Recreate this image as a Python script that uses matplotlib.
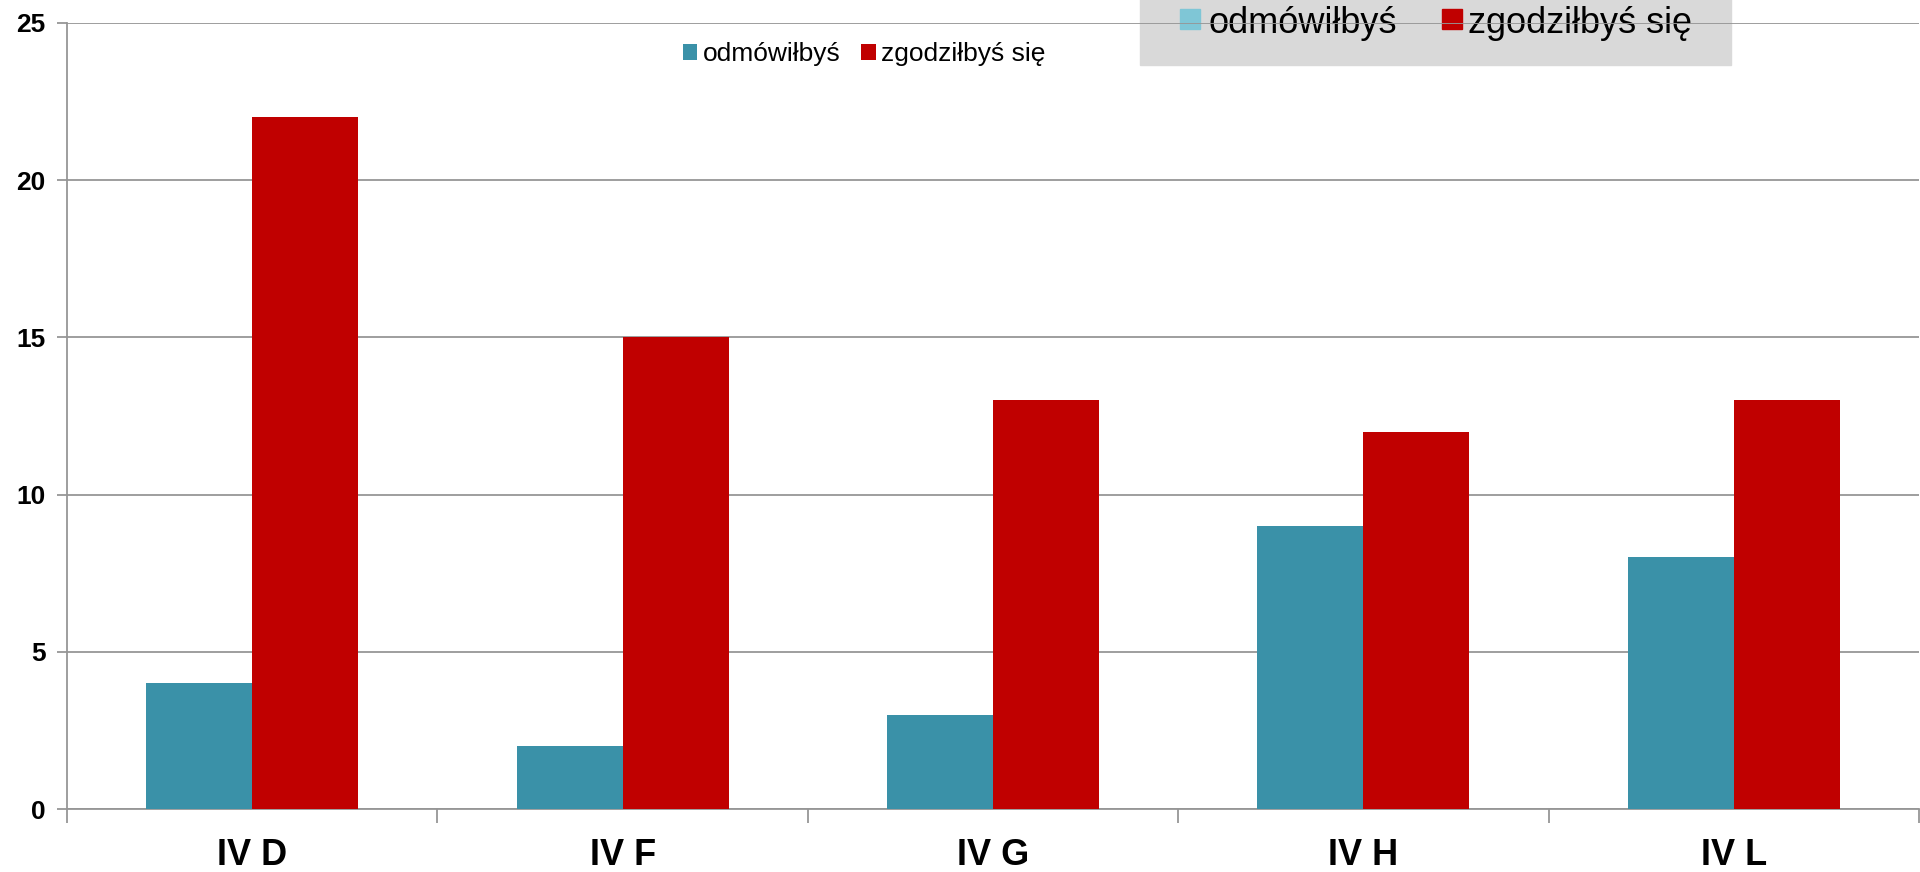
import matplotlib
matplotlib.use("Agg")
import matplotlib.pyplot as plt
from matplotlib.patches import Rectangle
import numpy as np

plt.rcParams['font.family'] = ['Liberation Sans', 'DejaVu Sans']

# data
classes = ["IV D", "IV F", "IV G", "IV H", "IV L"]
odmowilbys = [4, 2, 3, 9, 8]
zgodzilbys = [22, 15, 13, 12, 13]
series_names = ["odmówiłbyś", "zgodziłbyś się"]
y_ticks = [0, 5, 10, 15, 20, 25]

teal = "#3a91a8"
teal_light = "#7fc6d6"
red = "#c00000"
grey = "#969696"

W, H = 1920, 872
fig = plt.figure(figsize=(W / 100, H / 100), dpi=100)
ax = fig.add_axes([67 / W, 63 / H, 1852 / W, 786 / H])
ax.set_facecolor("none")

x = np.arange(len(classes))
w = 106 / 370.4
ax.bar(x - w / 2, odmowilbys, w, color=teal, label=series_names[0], zorder=3)
ax.bar(x + w / 2, zgodzilbys, w, color=red, label=series_names[1], zorder=3)

ax.set_xlim(-0.5, len(classes) - 0.5)
ax.set_ylim(0, 25)
ax.set_yticks(y_ticks)
ax.set_yticklabels([str(t) for t in y_ticks], fontsize=19, fontweight="bold")
ax.yaxis.grid(True, color=grey, lw=1.3, zorder=1)
ax.set_axisbelow(False)

# category labels in the middle, ticks between categories
ax.set_xticks(np.arange(-0.5, len(classes)), minor=False)
ax.set_xticklabels([])
ax.set_xticks(x, minor=True)
ax.set_xticklabels(classes, minor=True, fontsize=26, fontweight="bold")
ax.tick_params(axis="x", which="minor", length=0, pad=21)
ax.tick_params(axis="x", which="major", length=10, width=1.3, color=grey)
ax.tick_params(axis="y", length=7, width=1.3, color=grey, pad=8.5)

for s in ["top", "right"]:
    ax.spines[s].set_visible(False)
for s in ["left", "bottom"]:
    ax.spines[s].set_color(grey)
    ax.spines[s].set_linewidth(1.3)

# small legend inside the plot
ax.legend(ncol=2, loc="center", bbox_to_anchor=(864 / W, 818 / H),
          bbox_transform=fig.transFigure, frameon=False, fontsize=19,
          handlelength=0.55, handleheight=0.55, handletextpad=0.2,
          columnspacing=0.8)

# big grey legend at the top, cut off by the figure edge and
# crossed by the top gridline (drawn under the transparent axes)
def px(x0, y0):
    return x0 / W, 1 - y0 / H

fig.patches.append(Rectangle(px(1140, 65), 591 / W, 80 / H, color="#d9d9d9",
                             transform=fig.transFigure, zorder=-2))
for (hx, tx), col, name in zip([(1180, 1208), (1442, 1468)],
                               [teal_light, red], series_names):
    fig.patches.append(Rectangle(px(hx, 29), 20 / W, 20 / H, color=col,
                                 transform=fig.transFigure, zorder=-1))
    fig.text(*px(tx, 33), name, fontsize=26, va="baseline", ha="left",
             zorder=-1)

plt.savefig("out.png", dpi=100)
